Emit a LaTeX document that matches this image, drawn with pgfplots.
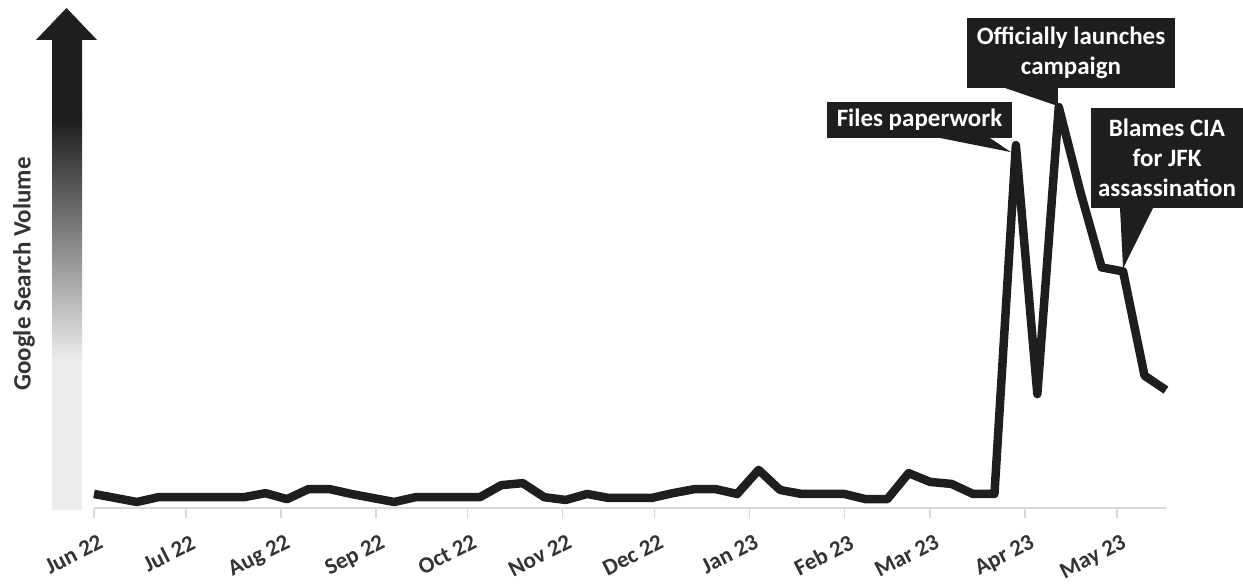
\documentclass[border=0pt]{standalone}
\usepackage{fontspec}
\setmainfont{Carlito}
\usepackage{pgfplots}
\usepackage{pgfplotstable}
\pgfplotsset{compat=1.18}
\usetikzlibrary{calc}

\definecolor{ink}{HTML}{1E1E1E}
\definecolor{pale}{HTML}{ECECEC}
\definecolor{axisgray}{HTML}{D9D9D9}
\definecolor{labelgray}{HTML}{333333}

% weekly search interest, day 0 = 1 Jun 2022
\pgfplotstableread{
day vol
0 3.5
7 2.5
14 1.5
21 2.7
28 2.7
35 2.7
42 2.7
49 2.7
56 3.7
63 2.2
70 4.7
77 4.7
84 3.5
91 2.5
98 1.5
105 2.7
112 2.7
119 2.7
126 2.7
133 5.7
140 6.2
147 2.7
154 2.0
161 3.5
168 2.5
175 2.5
182 2.5
189 3.7
196 4.7
203 4.7
210 3.5
217 9.5
224 4.5
231 3.5
238 3.5
245 3.5
252 2.2
259 2.2
266 8.7
273 6.5
280 6.0
287 3.5
294 3.5
301 90.5
308 28.4
315 100
322 79
329 60
336 59
343 33
350 29.4
}\trends

\begin{document}
\begin{tikzpicture}[x=1pt,y=1pt]
\path[use as bounding box] (0,0) rectangle (1243,585);

% gradient arrow standing in for the y axis
\fill[pale] (52,75) rectangle (82,225);
\shade[bottom color=pale, top color=ink] (52,224.5) rectangle (82,465.5);
\fill[ink] (52,465) -- (82,465) -- (82,545) -- (97,545) -- (66.5,577)
  -- (36,545) -- (52,545) -- cycle;
\node[rotate=90, font=\fontsize{25}{30}\selectfont\bfseries, text=labelgray]
  at (24,311) {Google Search Volume};

\begin{axis}[
  at={(94pt,77pt)}, anchor=south west,
  scale only axis, width=1072pt, height=401pt,
  xmin=0, xmax=350, ymin=0, ymax=100,
  clip=false,
  axis x line=bottom, axis y line=none,
  x axis line style={-, draw=axisgray, line width=2pt},
  tick align=outside, major tick length=10pt,
  xtick style={draw=axisgray, line width=1.5pt},
  xtick={0,30,61,92,122,153,183,214,245,273,304,334},
  xticklabels={Jun 22,Jul 22,Aug 22,Sep 22,Oct 22,Nov 22,Dec 22,Jan 23,Feb 23,Mar 23,Apr 23,May 23},
  xticklabel style={yshift=-14pt, xshift=4pt, rotate=27, anchor=north east,
    inner sep=1pt, font=\fontsize{23}{28}\selectfont\bfseries, text=labelgray},
]
\addplot[ink, line width=8.5pt, line join=round] table[x=day, y=vol] {\trends};
\coordinate (paper) at (axis cs:301,90.5);
\coordinate (launch) at (axis cs:315,100);
\coordinate (cia) at (axis cs:336,59);
\end{axis}

% callouts
\tikzset{callout/.style={fill=ink, text=white, inner sep=0pt, align=center,
  font=\fontsize{25}{30}\selectfont\bfseries}}
\fill[ink] (940,447) -- (990,447) -- ($(paper)+(-5,-7)$) -- cycle;
\node[callout, minimum width=185pt, minimum height=36pt] at (919.5,465) {Files paperwork};

\fill[ink] (1005,497) -- (1058,497) -- ($(launch)+(-1,1)$) -- cycle;
\node[callout, minimum width=208pt, minimum height=70pt] at (1071,532)
  {Officially launches\\campaign};

\fill[ink] (1120,377) -- (1153,377) -- ($(cia)+(0,3)$) -- cycle;
\node[callout, minimum width=152pt, minimum height=100pt] at (1167,427)
  {Blames CIA\\for JFK\\assassination};
\end{tikzpicture}
\end{document}
